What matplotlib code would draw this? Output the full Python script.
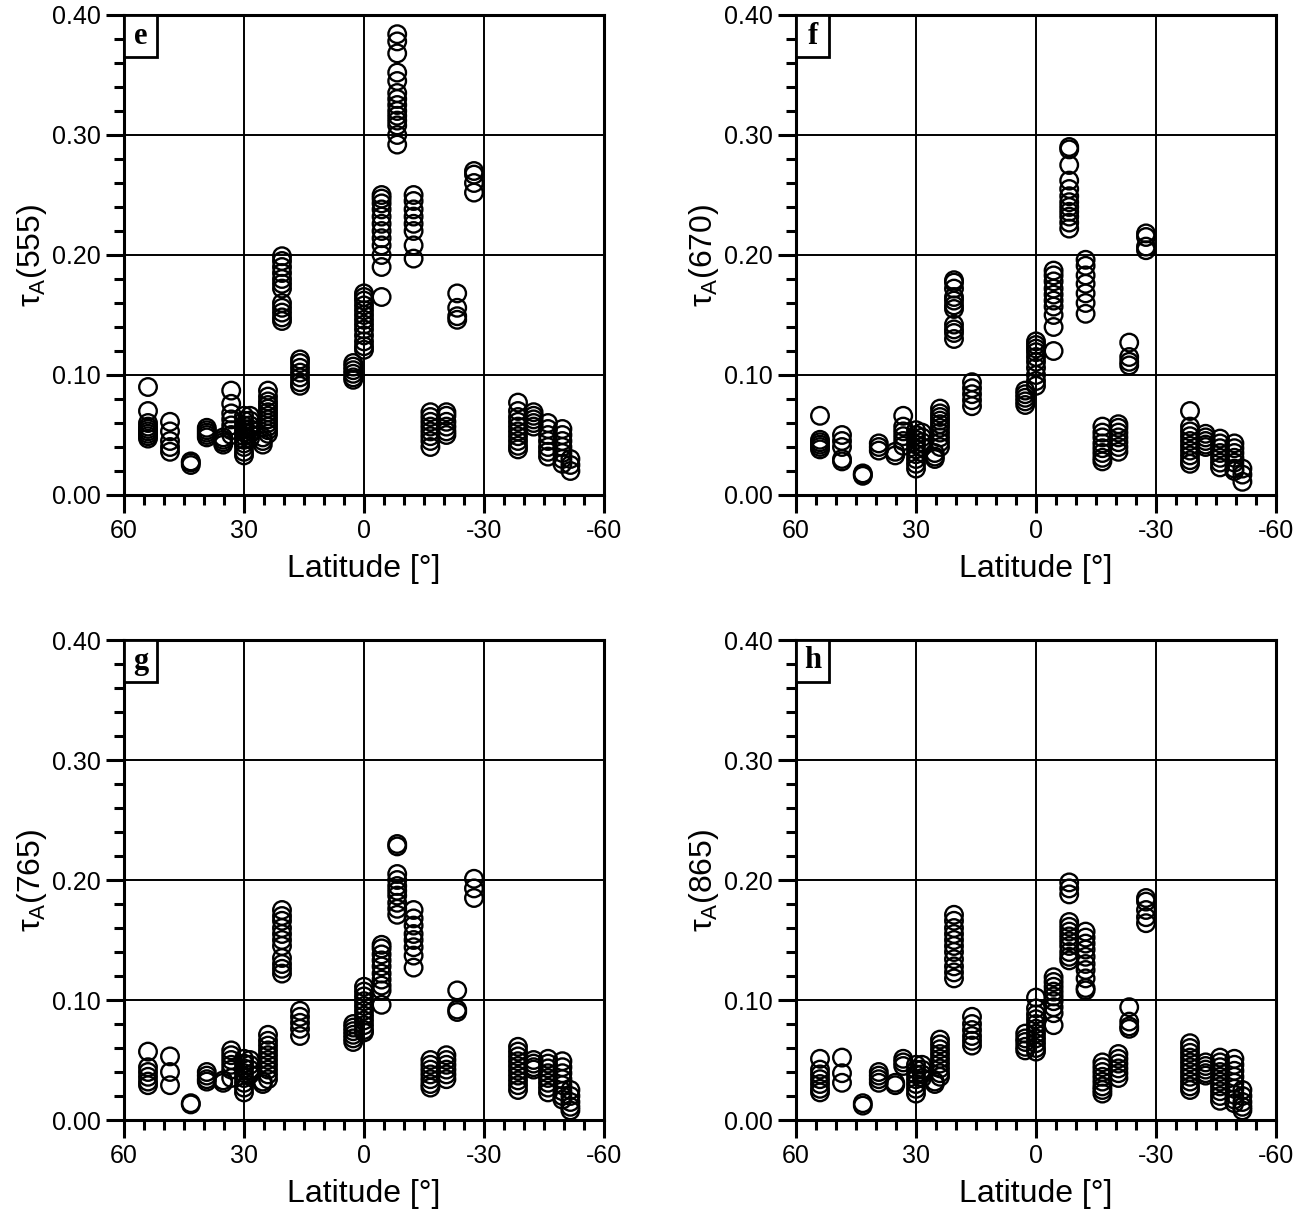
import matplotlib
matplotlib.use("Agg")
import matplotlib.pyplot as plt
from matplotlib.patches import Rectangle

plt.rcParams['font.family'] = ['Liberation Sans', 'DejaVu Sans']
plt.rcParams['mathtext.fontset'] = 'custom'
plt.rcParams['mathtext.rm'] = 'Liberation Sans'
plt.rcParams['mathtext.it'] = 'Liberation Sans'

# Station latitudes (cluster centres), degrees
station_lat = [54.0, 48.5, 43.3, 39.3, 35.2, 33.2, 30.0, 28.5, 25.3, 24.0, 20.5, 16.0, 2.7, 0.0,
               -4.4, -8.3, -12.4, -23.3, -27.5, -16.6, -20.6, -38.5, -42.4, -46.0, -49.6, -51.6]

tau_555 = [
    [0.090, 0.070, 0.060, 0.057, 0.055, 0.053, 0.051, 0.049, 0.047],
    [0.061, 0.053, 0.045, 0.040, 0.036],
    [0.028, 0.027, 0.025],
    [0.056, 0.054, 0.052, 0.050, 0.048],
    [0.048, 0.046, 0.044, 0.042],
    [0.087, 0.076, 0.068, 0.063, 0.058, 0.054, 0.050],
    [0.066, 0.062, 0.058, 0.055, 0.052, 0.049, 0.046, 0.043, 0.040, 0.036, 0.033],
    [0.066, 0.062, 0.058, 0.055, 0.051, 0.047],
    [0.048, 0.045, 0.042],
    [0.087, 0.082, 0.078, 0.075, 0.072, 0.069, 0.066, 0.063, 0.060, 0.057, 0.054, 0.051],
    [0.199, 0.195, 0.190, 0.185, 0.180, 0.176, 0.172, 0.160, 0.156, 0.152, 0.148, 0.145],
    [0.113, 0.110, 0.106, 0.102, 0.098, 0.094, 0.091],
    [0.110, 0.107, 0.104, 0.101, 0.098, 0.096],
    [0.168, 0.165, 0.162, 0.158, 0.154, 0.150, 0.146, 0.142, 0.138, 0.133, 0.128, 0.124, 0.121],
    [0.250, 0.247, 0.243, 0.238, 0.232, 0.226, 0.220, 0.214, 0.208, 0.200, 0.190, 0.165],
    [0.384, 0.378, 0.368, 0.352, 0.345, 0.335, 0.330, 0.325, 0.320, 0.316, 0.312, 0.308, 0.300, 0.292],
    [0.250, 0.245, 0.238, 0.232, 0.226, 0.220, 0.208, 0.197],
    [0.168, 0.156, 0.149, 0.146],
    [0.270, 0.267, 0.260, 0.252],
    [0.069, 0.065, 0.061, 0.057, 0.053, 0.049, 0.045, 0.040],
    [0.069, 0.066, 0.061, 0.057, 0.053, 0.050],
    [0.077, 0.070, 0.065, 0.061, 0.057, 0.053, 0.049, 0.045, 0.041, 0.038],
    [0.069, 0.066, 0.063, 0.060, 0.057],
    [0.060, 0.055, 0.050, 0.045, 0.040, 0.036, 0.032],
    [0.055, 0.050, 0.045, 0.040, 0.035, 0.030, 0.026],
    [0.030, 0.025, 0.020],
]

tau_670 = [
    [0.066, 0.046, 0.044, 0.042, 0.040, 0.038],
    [0.050, 0.045, 0.040, 0.030, 0.028],
    [0.018, 0.017, 0.016],
    [0.043, 0.040, 0.037],
    [0.036, 0.033],
    [0.066, 0.057, 0.053, 0.049, 0.045, 0.041],
    [0.054, 0.050, 0.046, 0.042, 0.038, 0.034, 0.030, 0.026, 0.022],
    [0.052, 0.048, 0.044, 0.040],
    [0.035, 0.032, 0.030],
    [0.072, 0.068, 0.065, 0.062, 0.059, 0.056, 0.052, 0.048, 0.044, 0.040],
    [0.179, 0.177, 0.172, 0.165, 0.162, 0.158, 0.155, 0.142, 0.138, 0.135, 0.130],
    [0.094, 0.089, 0.084, 0.079, 0.074],
    [0.087, 0.084, 0.081, 0.078, 0.075],
    [0.128, 0.125, 0.122, 0.119, 0.115, 0.111, 0.106, 0.100, 0.095, 0.091],
    [0.187, 0.183, 0.178, 0.172, 0.167, 0.162, 0.157, 0.150, 0.140, 0.120],
    [0.290, 0.288, 0.275, 0.262, 0.255, 0.249, 0.244, 0.240, 0.236, 0.232, 0.227, 0.222],
    [0.196, 0.191, 0.183, 0.176, 0.168, 0.160, 0.151],
    [0.127, 0.115, 0.111, 0.108],
    [0.218, 0.215, 0.207, 0.204],
    [0.057, 0.052, 0.048, 0.043, 0.039, 0.035, 0.031, 0.028],
    [0.059, 0.056, 0.052, 0.048, 0.044, 0.040, 0.036],
    [0.070, 0.057, 0.053, 0.049, 0.045, 0.041, 0.037, 0.033, 0.029, 0.026],
    [0.051, 0.048, 0.045, 0.042, 0.040],
    [0.047, 0.043, 0.039, 0.035, 0.031, 0.027, 0.023],
    [0.043, 0.039, 0.035, 0.031, 0.027, 0.022, 0.020],
    [0.022, 0.017, 0.011],
]

tau_765 = [
    [0.057, 0.044, 0.040, 0.036, 0.032, 0.029],
    [0.053, 0.040, 0.029],
    [0.014, 0.013],
    [0.040, 0.037, 0.034, 0.032],
    [0.033, 0.031],
    [0.058, 0.054, 0.050, 0.046, 0.042, 0.035],
    [0.051, 0.047, 0.043, 0.039, 0.035, 0.031, 0.027, 0.023],
    [0.050, 0.046, 0.042, 0.038],
    [0.032, 0.030],
    [0.071, 0.066, 0.062, 0.058, 0.054, 0.050, 0.046, 0.042, 0.038, 0.034],
    [0.175, 0.170, 0.166, 0.160, 0.155, 0.150, 0.145, 0.135, 0.130, 0.126, 0.122],
    [0.091, 0.086, 0.081, 0.076, 0.070],
    [0.080, 0.077, 0.074, 0.071, 0.068, 0.065],
    [0.111, 0.107, 0.103, 0.099, 0.095, 0.091, 0.087, 0.083, 0.079, 0.075, 0.073],
    [0.146, 0.143, 0.138, 0.133, 0.128, 0.122, 0.117, 0.112, 0.108, 0.096],
    [0.230, 0.228, 0.205, 0.200, 0.195, 0.191, 0.187, 0.181, 0.176, 0.171],
    [0.175, 0.168, 0.162, 0.155, 0.150, 0.144, 0.137, 0.127],
    [0.108, 0.092, 0.090],
    [0.201, 0.193, 0.185],
    [0.050, 0.046, 0.042, 0.038, 0.034, 0.030, 0.027],
    [0.054, 0.050, 0.046, 0.042, 0.038, 0.034],
    [0.061, 0.057, 0.053, 0.049, 0.045, 0.041, 0.037, 0.033, 0.029, 0.025],
    [0.050, 0.047, 0.044, 0.042],
    [0.051, 0.047, 0.043, 0.039, 0.035, 0.031, 0.027, 0.023],
    [0.049, 0.044, 0.039, 0.034, 0.029, 0.024, 0.020, 0.017],
    [0.025, 0.020, 0.015, 0.011, 0.008],
]

tau_865 = [
    [0.051, 0.042, 0.038, 0.034, 0.030, 0.026, 0.023],
    [0.052, 0.039, 0.031],
    [0.014, 0.012],
    [0.040, 0.037, 0.034, 0.031],
    [0.031, 0.029],
    [0.051, 0.048, 0.045],
    [0.046, 0.042, 0.038, 0.034, 0.030, 0.026, 0.022],
    [0.046, 0.042, 0.038, 0.035],
    [0.032, 0.030],
    [0.067, 0.063, 0.059, 0.055, 0.051, 0.047, 0.043, 0.039, 0.036],
    [0.171, 0.166, 0.160, 0.155, 0.150, 0.145, 0.140, 0.134, 0.128, 0.123, 0.118],
    [0.086, 0.080, 0.075, 0.070, 0.066, 0.062],
    [0.072, 0.068, 0.065, 0.061, 0.058],
    [0.102, 0.093, 0.088, 0.084, 0.080, 0.076, 0.072, 0.068, 0.064, 0.060, 0.057],
    [0.119, 0.115, 0.111, 0.107, 0.103, 0.099, 0.094, 0.089, 0.079],
    [0.198, 0.193, 0.188, 0.165, 0.161, 0.157, 0.153, 0.149, 0.145, 0.140, 0.136, 0.133],
    [0.157, 0.152, 0.147, 0.142, 0.136, 0.130, 0.125, 0.118, 0.110, 0.108],
    [0.094, 0.082, 0.078, 0.076],
    [0.185, 0.182, 0.175, 0.169, 0.164],
    [0.048, 0.044, 0.040, 0.036, 0.032, 0.028, 0.025, 0.022],
    [0.055, 0.051, 0.047, 0.043, 0.039, 0.035],
    [0.064, 0.060, 0.056, 0.052, 0.048, 0.044, 0.040, 0.036, 0.032, 0.028, 0.025],
    [0.048, 0.045, 0.042, 0.039, 0.037],
    [0.052, 0.048, 0.044, 0.040, 0.036, 0.032, 0.028, 0.024, 0.020, 0.016],
    [0.051, 0.046, 0.041, 0.036, 0.031, 0.026, 0.021, 0.017, 0.014],
    [0.025, 0.020, 0.015, 0.011, 0.008],
]

panel_letters = ['e', 'f', 'g', 'h']
wavelengths = ['555', '670', '765', '865']
panel_data = [tau_555, tau_670, tau_765, tau_865]
x_ticks = [60, 30, 0, -30, -60]
y_ticks = [0.0, 0.1, 0.2, 0.3, 0.4]
y_ticklabels = ['0.00', '0.10', '0.20', '0.30', '0.40']

W, H = 1307, 1214
fig = plt.figure(figsize=(W / 100, H / 100), dpi=100)

# axes boxes in pixels (left, top)
boxes = [(124, 15), (796, 15), (124, 640), (796, 640)]
aw, ah = 480, 480

for (px, py), letter, wl, data in zip(boxes, panel_letters, wavelengths, panel_data):
    ax = fig.add_axes([px / W, 1 - (py + ah) / H, aw / W, ah / H])
    xs, ys = [], []
    for lat, vals in zip(station_lat, data):
        for v in vals:
            xs.append(lat)
            ys.append(v)
    ax.scatter(xs, ys, s=160, facecolors='none', edgecolors='black', linewidths=1.7, zorder=3)
    ax.set_xlim(60, -60)
    ax.set_ylim(0, 0.4)
    ax.set_xticks(x_ticks)
    ax.set_xticklabels([str(t) for t in x_ticks])
    ax.set_xticks(range(-55, 60, 5), minor=True)
    ax.set_yticks(y_ticks)
    ax.set_yticklabels(y_ticklabels)
    ax.set_yticks([i * 0.02 for i in range(21)], minor=True)
    ax.grid(True, which='major', color='black', linewidth=1.4, zorder=1)
    ax.set_axisbelow(True)
    ax.tick_params(which='major', direction='out', length=13, width=2.2, labelsize=18, pad=4)
    ax.tick_params(which='minor', direction='out', length=7, width=2.2)
    for sp in ax.spines.values():
        sp.set_linewidth(2.2)
    ax.set_xlabel('Latitude [°]', fontsize=23, labelpad=8)
    ax.set_ylabel(r'$\tau_{\mathrm{A}}$(' + wl + ')', fontsize=23, labelpad=2)
    bw, bh = 33 / aw, 42 / ah
    ax.add_patch(Rectangle((0, 1 - bh), bw, bh, transform=ax.transAxes, facecolor='white',
                           edgecolor='black', linewidth=2, zorder=5, clip_on=False))
    ax.text(bw / 2, 1 - bh / 2, letter, transform=ax.transAxes, ha='center', va='center',
            fontsize=22, fontweight='bold', family=['Liberation Serif', 'DejaVu Serif'], zorder=6)

fig.savefig('out.png', dpi=100)
